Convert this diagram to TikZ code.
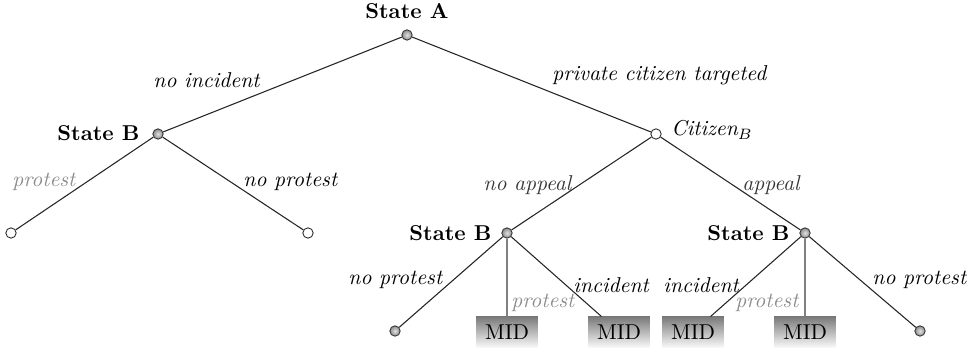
\documentclass[tikz,border=0pt]{standalone}
\usetikzlibrary{shadings}
\begin{document}
\begin{tikzpicture}[x=0.465pt,y=-0.465pt,
  edge/.style={draw=black!85,line width=0.5pt},
  pedge/.style={draw=black!50,line width=0.6pt},
  dnode/.style={circle,draw=black!80,line width=0.4pt,inner sep=0pt,minimum size=4.8pt,inner color=black!12,outer color=black!45},
  onode/.style={circle,draw=black!85,line width=0.4pt,inner sep=0pt,minimum size=4.8pt,fill=white},
  midbox/.style={rectangle,inner sep=0pt,minimum width=28.8pt,minimum height=14pt,top color=black!52,bottom color=black!3,font=\normalsize},
  lab/.style={inner sep=0pt,font=\itshape},
  glab/.style={lab,text=black!45},
  alab/.style={lab,text=black!78},
  blab/.style={inner sep=0pt,font=\bfseries}]
\useasboundingbox (0,0) rectangle (974,348);
% nodes
\node[dnode] (A) at (407,35) {};
\node[dnode] (Bl) at (158,134) {};
\node[onode] (C) at (656,134) {};
\node[onode] (L1) at (11,233) {};
\node[onode] (L2) at (308,233) {};
\node[dnode] (Bm) at (507,233) {};
\node[dnode] (Br) at (805,233) {};
\node[dnode] (L3) at (395,331) {};
\node[midbox] (M1) at (507,332) {MID};
\node[midbox] (M2) at (619,332) {MID};
\node[midbox] (M3) at (693,332) {MID};
\node[midbox] (M4) at (805,332) {MID};
\node[dnode] (L4) at (920,331) {};
% edges
\draw[edge] (A) -- (Bl);
\draw[edge] (A) -- (C);
\draw[edge] (Bl) -- (L1);
\draw[edge] (Bl) -- (L2);
\draw[edge] (C) -- (Bm);
\draw[edge] (C) -- (Br);
\draw[edge] (Bm) -- (L3);
\draw[pedge] (Bm) -- (M1);
\draw[edge] (Bm) -- (M2);
\draw[edge] (Br) -- (M3);
\draw[pedge] (Br) -- (M4);
\draw[edge] (Br) -- (L4);
% labels
\node[blab,anchor=base] (tA) at (407,19) {State A};
\node[lab,anchor=base west] (tnoinc) at (153,88) {no incident};
\node[lab,anchor=base west] (tpct) at (552,81) {private citizen targeted};
\node[blab,anchor=base east] (tBl) at (140,141) {State B};
\node[lab,anchor=base west] (tcit) at (671,136) {Citizen$_B$};
\node[glab,anchor=base west] (tprot1) at (12,187) {protest};
\node[lab,anchor=base west] (tnp1) at (243,187) {no protest};
\node[alab,anchor=base west] (tnoapp) at (483,191) {no appeal};
\node[alab,anchor=base west] (tapp) at (742,191) {appeal};
\node[blab,anchor=base east] (tBm) at (492,241) {State B};
\node[blab,anchor=base east] (tBr) at (790,241) {State B};
\node[lab,anchor=base west] (tnp2) at (348,285) {no protest};
\node[glab,anchor=base west] (tprot2) at (511,308) {protest};
\node[lab,anchor=base west] (tinc2) at (573,293) {incident};
\node[lab,anchor=base west] (tinc3) at (663,293) {incident};
\node[glab,anchor=base west] (tprot3) at (735,308) {protest};
\node[lab,anchor=base west] (tnp3) at (872,285) {no protest};
\end{tikzpicture}
\end{document}
